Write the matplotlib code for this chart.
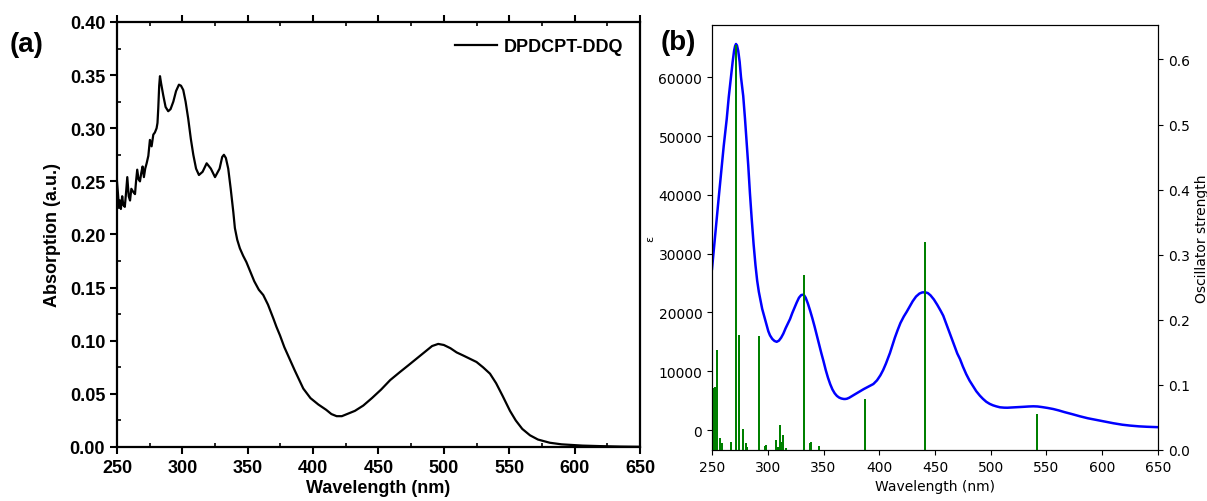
import numpy as np
import matplotlib
matplotlib.use("Agg")
import matplotlib.pyplot as plt
from matplotlib.ticker import MultipleLocator
from matplotlib.font_manager import FontProperties

# measured absorption spectrum of DPDCPT-DDQ
wl_abs = [250, 250.8, 251.5, 252.3, 253, 254, 254.8, 256, 257, 257.9, 259, 260, 261,
          262.5, 263.8, 264.6, 265.5, 266.5, 267.6, 268.6, 269.6, 270.6, 271.6, 272.7,
          274, 275.2, 276.5, 277.8, 279, 280.3, 281, 281.6, 282.3, 282.9, 283.8, 285.4,
          287.2, 289.2, 291, 293.1, 295.2, 297.4, 299, 300.7, 302.5, 304.5, 306.5, 308.4,
          310.5, 312.7, 315.5, 318.6, 321.8, 325, 328.5, 330.5, 331.8, 333.3, 335.1, 337,
          339, 340.2, 342, 344, 346.5, 349, 352, 355, 358.5, 361.9, 365.5, 369.6, 372,
          374.7, 378, 382, 386, 392.5, 398, 404, 410, 414, 418, 422, 426, 432, 438.4,
          445, 452, 459, 466.4, 473, 480, 486, 491, 495.7, 500, 505, 509.8, 515, 520,
          525, 530, 535.3, 540, 545, 550.6, 555, 560, 565.9, 572, 581, 590, 606, 620,
          635, 650]
absorption = [0.250, 0.238, 0.226, 0.232, 0.224, 0.236, 0.228, 0.226, 0.240, 0.254, 0.236,
              0.232, 0.243, 0.240, 0.238, 0.250, 0.261, 0.252, 0.250, 0.258, 0.264, 0.254,
              0.262, 0.267, 0.274, 0.289, 0.283, 0.294, 0.296, 0.300, 0.305, 0.319, 0.340,
              0.349, 0.342, 0.331, 0.320, 0.316, 0.318, 0.325, 0.335, 0.341, 0.340, 0.336,
              0.325, 0.309, 0.290, 0.275, 0.262, 0.256, 0.259, 0.267, 0.262, 0.254, 0.262,
              0.273, 0.275, 0.272, 0.262, 0.243, 0.221, 0.206, 0.195, 0.187, 0.180, 0.174,
              0.165, 0.156, 0.148, 0.143, 0.134, 0.121, 0.113, 0.105, 0.094, 0.083, 0.072,
              0.055, 0.046, 0.040, 0.035, 0.031, 0.029, 0.029, 0.031, 0.034, 0.039, 0.046,
              0.054, 0.063, 0.0705, 0.077, 0.084, 0.090, 0.095, 0.097, 0.096, 0.093, 0.089,
              0.086, 0.083, 0.080, 0.075, 0.069, 0.060, 0.048, 0.034, 0.025, 0.017, 0.011,
              0.007, 0.004, 0.0025, 0.0013, 0.0008, 0.0004, 0.0002]

# simulated spectrum (TD-DFT)
wl_eps = [250, 252, 254.2, 256, 258, 260.5, 263.2, 265, 267, 268.5, 269.8, 270.7, 271.5,
          272.4, 273.5, 274.8, 276, 278, 279.6, 281, 282.5, 284, 285.6, 287.3, 289, 290.5,
          292, 293.5, 295, 297.5, 300.5, 302, 304, 306, 308, 310, 312, 314, 316, 318, 320,
          322, 324, 326, 328, 330, 331.3, 332.5, 334, 336, 338, 340, 342, 344, 346, 348,
          350, 352, 354, 356, 358, 360, 362, 364, 366, 368, 369.3, 371, 373, 375, 378,
          382, 386, 390, 394.7, 398, 401, 403.5, 406, 408, 409.6, 412, 414, 416.5, 419,
          422, 424.6, 427, 430, 433, 436, 438.5, 441, 443.5, 446, 449, 452, 455, 457.4,
          460, 463, 466, 468, 470, 472.4, 475, 478, 481, 484, 487, 490.3, 493, 496, 499,
          502, 505, 508.3, 512, 515, 519, 523, 527, 530, 534, 538.2, 542, 546, 551, 556,
          561, 566, 573, 580, 587, 595, 603, 610, 618, 625, 633, 640, 650]
epsilon = [27400, 31500, 35900, 39500, 43500, 48300, 52900, 56600, 60000, 62600, 64500,
           65300, 65650, 65400, 64500, 62600, 60000, 56800, 52900, 49200, 45000, 40300,
           35900, 31600, 28000, 25400, 23500, 22000, 20600, 18880, 16800, 16100, 15500,
           15150, 15000, 15200, 15700, 16400, 17300, 18100, 18880, 19900, 20800, 21700,
           22500, 22950, 23000, 22950, 22500, 21500, 20300, 19000, 17600, 16100, 14600,
           13100, 11700, 10200, 8900, 7800, 6900, 6250, 5800, 5520, 5360, 5280, 5270,
           5320, 5480, 5700, 6050, 6500, 6950, 7350, 7820, 8450, 9300, 10200, 11300,
           12300, 13100, 14500, 15700, 17000, 18200, 19300, 20100, 20900, 21900, 22700,
           23200, 23400, 23420, 23300, 22900, 22200, 21300, 20300, 19440, 18100, 16500,
           15000, 14000, 13000, 12070, 10800, 9500, 8400, 7500, 6600, 5830, 5300, 4800,
           4450, 4200, 4020, 3860, 3800, 3790, 3830, 3880, 3920, 3950, 4000, 4030, 4000,
           3900, 3750, 3570, 3330, 3050, 2700, 2330, 2000, 1700, 1400, 1150, 900, 750,
           620, 550, 480]

# excitation energies and oscillator strengths
osc_wl = [251.2, 252.7, 254.2, 257.2, 258.7, 267.0, 271.5, 274.2, 277.5, 280.5, 281.7,
          292.2, 297.5, 298.4, 307.4, 308.8, 311.0, 312.5, 313.7, 316.4, 332.5, 337.9,
          338.8, 346.0, 387.2, 441.0, 541.2]
osc_f = [0.096, 0.097, 0.154, 0.019, 0.011, 0.013, 0.623, 0.177, 0.032, 0.010, 0.005,
         0.175, 0.006, 0.007, 0.016, 0.004, 0.038, 0.013, 0.023, 0.003, 0.269, 0.011,
         0.013, 0.006, 0.079, 0.320, 0.055]

fig = plt.figure(figsize=(12.07, 5.02), dpi=100)

# ---- (a) experimental ----
bold = dict(family="Liberation Sans", weight="bold")
ax = fig.add_axes([0.0969, 0.1076, 0.4333, 0.8466])
ax.plot(wl_abs, absorption, color="black", lw=1.6, label="DPDCPT-DDQ")
ax.set_xlim(250, 650)
ax.set_ylim(0, 0.40)
ax.xaxis.set_major_locator(MultipleLocator(50))
ax.xaxis.set_minor_locator(MultipleLocator(25))
ax.yaxis.set_major_locator(MultipleLocator(0.05))
ax.yaxis.set_minor_locator(MultipleLocator(0.025))
ax.yaxis.set_major_formatter(lambda v, p: f"{v:.2f}")
ax.tick_params(which="major", direction="out", length=5, width=1.5)
ax.tick_params(which="minor", direction="in", length=3, width=1.2)
ax.tick_params(axis="x", which="both", top=True)
for s in ax.spines.values():
    s.set_linewidth(1.6)
for lab in ax.get_xticklabels() + ax.get_yticklabels():
    lab.set_fontproperties(FontProperties(size=13, **bold))
ax.set_xlabel("Wavelength (nm)", fontsize=13, labelpad=2, **bold)
ax.set_ylabel("Absorption (a.u.)", fontsize=13, labelpad=6, **bold)
ax.legend(loc="upper right", frameon=False, handlelength=2.3, handletextpad=0.4,
          prop=FontProperties(size=13, **bold), borderaxespad=0.5)
fig.text(0.008, 0.91, "(a)", fontsize=20, va="center", **bold)

# ---- (b) calculated ----
bx = fig.add_axes([0.5899, 0.1016, 0.3695, 0.8466])
bx.plot(wl_eps, epsilon, color="blue", lw=1.8)
bx.set_xlim(250, 650)
bx.set_ylim(-3400, 68880)
bx.set_xlabel("Wavelength (nm)", fontsize=10)
bx.set_ylabel("ε", fontsize=8, labelpad=2)
bx2 = bx.twinx()
bx2.bar(osc_wl, osc_f, width=1.8, color="green")
bx2.set_ylim(0, 0.653)
bx2.set_ylabel("Oscillator strength", fontsize=10)
fig.text(0.547, 0.915, "(b)", fontsize=20, va="center", **bold)

fig.savefig("out.png", dpi=100)
